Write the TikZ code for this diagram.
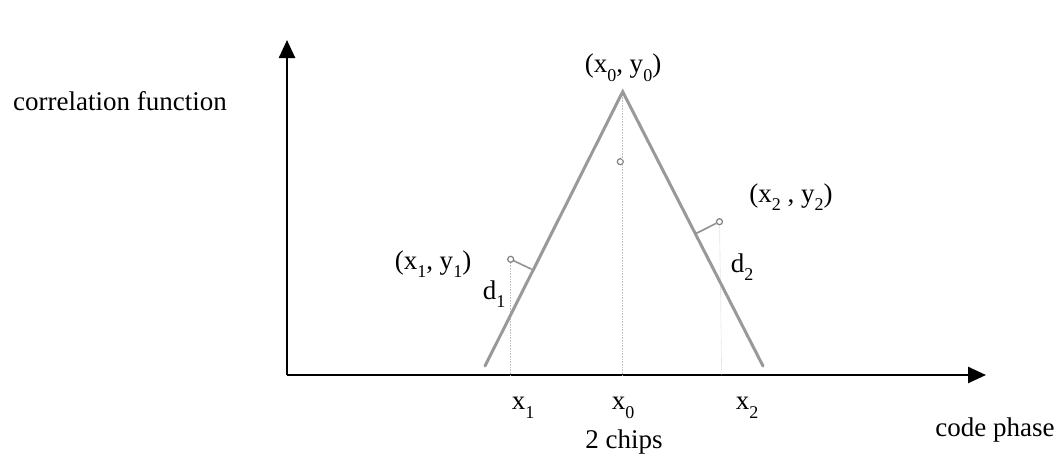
\documentclass[tikz,border=0pt]{standalone}
\usepackage{fontspec}
\setmainfont{Liberation Serif}
\usetikzlibrary{arrows.meta}
\newcommand{\sbs}[1]{\raisebox{-0.32em}{\fontsize{18}{18}\selectfont #1}}
\begin{document}
\begin{tikzpicture}[x=1pt,y=-1pt,
  axis/.style={line width=2.5pt,black,-{Triangle[length=18pt,width=16pt]}},
  tri/.style={line width=3pt,gray!80,line cap=round},
  guide/.style={line width=0.6pt,gray!50,densely dotted},
  perp/.style={line width=1.6pt,gray!85},
  pt/.style={circle,draw=gray,line width=1.2pt,fill=white,inner sep=0pt,minimum size=6pt},
  lbl/.style={font=\fontsize{27}{27}\selectfont,inner sep=0pt}]
\useasboundingbox (0,0) rectangle (1061,458);
% axes
\coordinate (O) at (287,375);
\coordinate (Ytip) at (287,40);
\coordinate (Xtip) at (986,375);
\draw[axis] (O) -- (Ytip);
\draw[axis] (O) -- (Xtip);
% triangle
\coordinate (L) at (485,366);
\coordinate (A) at (622.7,91.7);
\coordinate (R) at (763,366);
% guides
\coordinate (X1) at (510.7,375);
\coordinate (X0) at (622.7,375);
\coordinate (X2) at (721.7,375);
\node[pt] (P1) at (510.7,259.3) {};
\node[pt] (P2) at (719.5,221.7) {};
\node[pt] (P0) at (620.3,161.7) {};
\draw[guide] (P1) -- (X1);
\draw[guide] (A) -- (X0);
\draw[guide] (P2) -- (X2);
\draw[tri] (L) -- (A) -- (R);
\coordinate (F1) at (531.7,269.3);
\coordinate (F2) at (695,234);
\draw[perp] (P1) -- (F1);
\draw[perp] (P2) -- (F2);
% labels
\node[lbl] (cf) at (120,101) {correlation function};
\node[lbl] (l0) at (623,68) {(x\sbs{0}, y\sbs{0})};
\node[lbl] (l1) at (433,264) {(x\sbs{1}, y\sbs{1})};
\node[lbl] (l2) at (791,197) {(x\sbs{2} , y\sbs{2})};
\node[lbl] (d1) at (494,294) {d\sbs{1}};
\node[lbl] (d2) at (742,267) {d\sbs{2}};
\node[lbl] (x1) at (523,408) {x\sbs{1}};
\node[lbl] (x0) at (623,408) {x\sbs{0}};
\node[lbl] (x2) at (747,408) {x\sbs{2}};
\node[lbl] (ch) at (624,442) {2 chips};
\node[lbl] (cp) at (995,430) {code phase};
\end{tikzpicture}
\end{document}
